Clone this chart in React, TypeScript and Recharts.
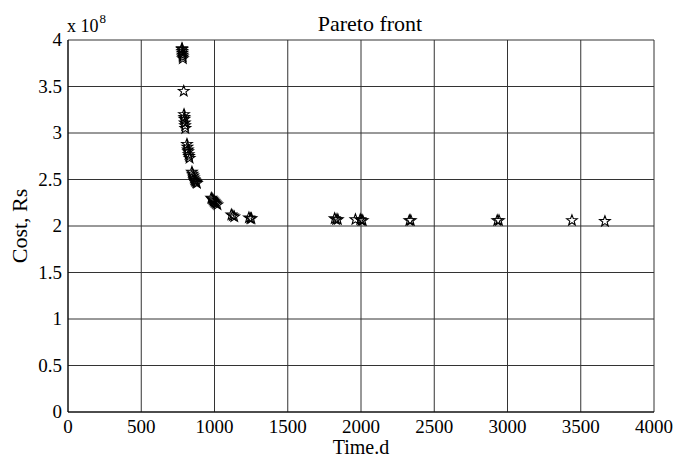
import { CartesianGrid, Label, Scatter, ScatterChart, XAxis, YAxis } from 'recharts'

const times = [
  778, 779, 780, 781, 782, 783, 784, 790, 792, 794, 795, 797, 799, 801, 812, 815, 818, 820, 823,
  826, 830, 846, 850, 855, 859, 862, 866, 870, 875, 880, 978, 984, 990, 995, 1000, 1006, 1012,
  1020, 1115, 1125, 1135, 1235, 1245, 1252, 1820, 1830, 1842, 1962, 1995, 2003, 2012, 2330,
  2340, 2930, 2942, 3440, 3665,
]
const costs = [
  3.91, 3.9, 3.88, 3.86, 3.84, 3.82, 3.8, 3.45, 3.2, 3.17, 3.15, 3.11, 3.08, 3.05, 2.88, 2.85,
  2.82, 2.8, 2.77, 2.75, 2.73, 2.58, 2.56, 2.54, 2.52, 2.5, 2.49, 2.48, 2.47, 2.46, 2.3, 2.29,
  2.28, 2.27, 2.26, 2.25, 2.24, 2.23, 2.12, 2.11, 2.1, 2.09, 2.08, 2.08, 2.08, 2.07, 2.07, 2.07,
  2.07, 2.06, 2.06, 2.06, 2.06, 2.06, 2.06, 2.06, 2.05,
]
const xTicks = [0, 500, 1000, 1500, 2000, 2500, 3000, 3500, 4000]
const yTicks = [0, 0.5, 1, 1.5, 2, 2.5, 3, 3.5, 4]

const points = times.map((t, i) => ({ time: t, cost: costs[i] }))

const font = 'Liberation Serif'

const Star = (props: any) => {
  const { cx, cy } = props
  const R = 5.6
  const r = 2.3
  let d = ''
  for (let k = 0; k < 10; k++) {
    const rad = k % 2 === 0 ? R : r
    const a = -Math.PI / 2 + (k * Math.PI) / 5
    d += (k === 0 ? 'M' : 'L') + (cx + rad * Math.cos(a)).toFixed(2) + ',' + (cy + rad * Math.sin(a)).toFixed(2)
  }
  return <path d={d + 'Z'} fill="none" stroke="#000" strokeWidth={1.1} />
}

const XTick = (props: any) => {
  const { x, y, payload } = props
  return (
    <text x={x} y={y + 13} textAnchor="middle" fill="#000" fontSize={19} fontFamily={font} style={{ fontFamily: font }}>
      {payload.value}
    </text>
  )
}

const YTick = (props: any) => {
  const { x, y, payload } = props
  return (
    <text x={x + 2} y={y + 6} textAnchor="end" fill="#000" fontSize={19} fontFamily={font} style={{ fontFamily: font }}>
      {payload.value}
    </text>
  )
}

export default function App() {
  return (
    <div style={{ position: 'absolute', left: 0, top: 0, width: 678, height: 457, background: '#fff', fontFamily: font }}>
      <div style={{ position: 'absolute', left: 300, width: 140, top: 12, textAlign: 'center', fontSize: 22, lineHeight: '24px' }}>
        Pareto front
      </div>
      <div style={{ position: 'absolute', left: 67, top: 15, fontSize: 18, lineHeight: '22px', whiteSpace: 'nowrap' }}>
        x 10<span style={{ fontSize: 13, position: 'relative', top: -9, marginLeft: 1 }}>8</span>
      </div>
      <ScatterChart width={678} height={457} margin={{ top: 40, right: 24, bottom: 0, left: 0 }} style={{ fontFamily: font }}>
        <CartesianGrid stroke="#333" strokeWidth={1} />
        <XAxis
          type="number"
          dataKey="time"
          domain={[0, 4000]}
          ticks={xTicks}
          height={45}
          stroke="#000"
          tickLine={false}
          tick={XTick}
        >
          <Label
            value="Time.d"
            position="insideBottom"
            offset={3}
            fontFamily={font}
            style={{ fill: '#000', fontSize: 20, fontFamily: font }}
          />
        </XAxis>
        <YAxis
          type="number"
          dataKey="cost"
          domain={[0, 4]}
          ticks={yTicks}
          width={68}
          stroke="#000"
          tickLine={false}
          tick={YTick}
        >
          <Label
            value="Cost, Rs"
            angle={-90}
            position="insideLeft"
            offset={19}
            fontFamily={font}
            style={{ fill: '#000', fontSize: 22, fontFamily: font, textAnchor: 'middle' }}
          />
        </YAxis>
        <Scatter data={points} shape={Star} isAnimationActive={false} />
      </ScatterChart>
    </div>
  )
}
